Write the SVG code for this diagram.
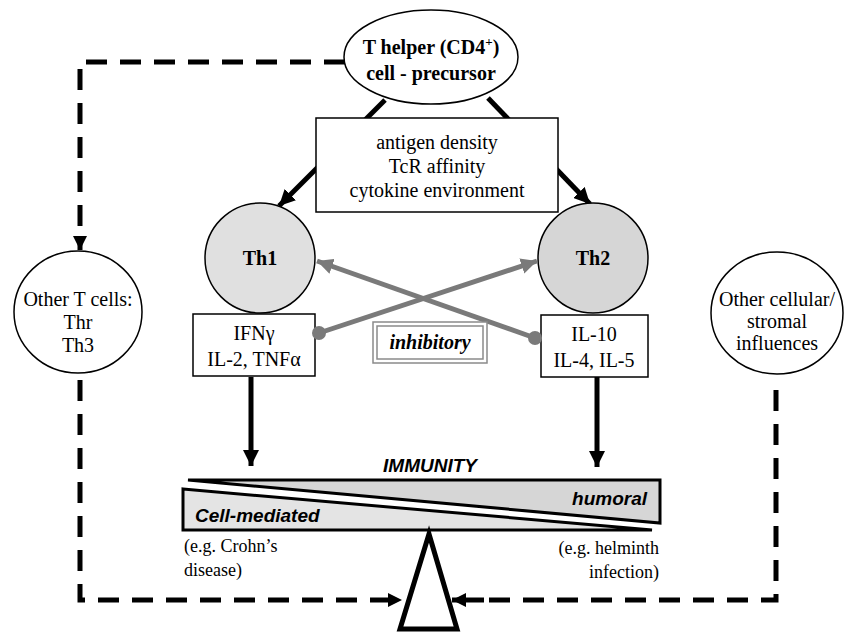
<svg xmlns="http://www.w3.org/2000/svg" width="847" height="633" viewBox="0 0 847 633">
<style>
.t{font-family:"Liberation Serif","Times New Roman",serif;font-size:20px;fill:#000;text-anchor:middle}
.tb{font-family:"Liberation Serif","Times New Roman",serif;font-size:20px;font-weight:bold;fill:#000;text-anchor:middle}
.s{font-family:"Liberation Serif","Times New Roman",serif;font-size:18px;fill:#000}
.a{font-family:"Liberation Sans",Arial,sans-serif;font-size:19px;font-weight:bold;font-style:italic;fill:#000}
.node{fill:#fff;stroke:#000;stroke-width:1.5}
.thick{stroke:#000;stroke-width:5;fill:none}
.gray{stroke:#7a7a7a;stroke-width:5;fill:none}
.dash{stroke:#000;stroke-width:5;fill:none;stroke-dasharray:21 13}
</style>
<defs>
<marker id="ab" markerUnits="userSpaceOnUse" markerWidth="18" markerHeight="16" refX="16" refY="8" orient="auto"><path d="M0,0 L16,8 L0,16 Z" fill="#000"/></marker>
<marker id="ag" markerUnits="userSpaceOnUse" markerWidth="18" markerHeight="16" refX="16" refY="8" orient="auto"><path d="M0,0 L16,8 L0,16 Z" fill="#7a7a7a"/></marker>
<marker id="ad" markerUnits="userSpaceOnUse" markerWidth="15" markerHeight="14" refX="14" refY="7" orient="auto"><path d="M0,0 L14,7 L0,14 Z" fill="#000"/></marker>
</defs>
<g id="connectors">
<line class="thick" x1="385" y1="100" x2="279" y2="206" marker-end="url(#ab)"/>
<line class="thick" x1="488" y1="98" x2="590" y2="204" marker-end="url(#ab)"/>
<path class="dash" d="M345,62 H80 V250" marker-end="url(#ad)"/>
<path class="dash" d="M80,380 V600 H402" marker-end="url(#ad)"/>
<path class="dash" d="M776,390 V600 H482"/>
<line class="thick" x1="484" y1="600" x2="452" y2="600" marker-end="url(#ad)"/>
<line class="thick" x1="251" y1="377" x2="251" y2="466" marker-end="url(#ab)"/>
<line class="thick" x1="597" y1="377" x2="597" y2="467" marker-end="url(#ab)"/>
</g>
<g id="precursor">
<ellipse class="node" cx="431" cy="57" rx="87" ry="47"/>
<text class="tb" x="431" y="54" font-size="21">T helper (CD4<tspan font-size="13" dy="-8">+</tspan><tspan dy="8">)</tspan></text>
<text class="tb" x="431" y="80" font-size="21">cell - precursor</text>
</g>
<g id="factors">
<rect class="node" x="316" y="118" width="242" height="94"/>
<text class="t" x="437" y="149">antigen density</text>
<text class="t" x="437" y="173">TcR affinity</text>
<text class="t" x="437" y="197">cytokine environment</text>
</g>
<g id="th1">
<circle cx="260" cy="258" r="55" fill="#e0e0e0" stroke="#000" stroke-width="1.5"/>
<text class="tb" x="260" y="265">Th1</text>
</g>
<g id="th2">
<circle cx="593" cy="258" r="55" fill="#d6d6d6" stroke="#000" stroke-width="1.5"/>
<text class="tb" x="593" y="265">Th2</text>
</g>
<g id="th1-cytokines">
<rect class="node" x="193" y="314" width="122" height="62"/>
<text class="t" x="254" y="340">IFNγ</text>
<text class="t" x="254" y="366">IL-2, TNFα</text>
</g>
<g id="th2-cytokines">
<rect class="node" x="541" y="315" width="107" height="62"/>
<text class="t" x="594" y="341">IL-10</text>
<text class="t" x="594" y="367">IL-4, IL-5</text>
</g>
<g id="inhibition">
<line class="gray" x1="319" y1="333" x2="537" y2="261" marker-end="url(#ag)"/>
<line class="gray" x1="535" y1="338" x2="317" y2="261" marker-end="url(#ag)"/>
<circle cx="319" cy="333" r="7" fill="#7a7a7a"/>
<circle cx="535" cy="338" r="7" fill="#7a7a7a"/>
</g>
<g id="inhibitory">
<rect x="373" y="322" width="114" height="41" fill="#fff" stroke="#8a8a8a" stroke-width="1.5"/>
<rect x="377" y="326" width="106" height="33" fill="none" stroke="#8a8a8a" stroke-width="1.5"/>
<text class="tb" x="430" y="349" font-style="italic">inhibitory</text>
</g>
<g id="other-t-cells">
<ellipse class="node" cx="78" cy="312" rx="64" ry="61"/>
<text class="t" x="78" y="306" font-size="19">Other T cells:</text>
<text class="t" x="78" y="329" font-size="19">Thr</text>
<text class="t" x="78" y="352" font-size="19">Th3</text>
</g>
<g id="other-influences">
<ellipse class="node" cx="777" cy="313" rx="66" ry="61"/>
<text class="t" x="777" y="306" font-size="19">Other cellular/</text>
<text class="t" x="777" y="328" font-size="19">stromal</text>
<text class="t" x="777" y="350" font-size="19">influences</text>
</g>
<g id="immunity-balance">
<text class="a" x="430" y="472" text-anchor="middle">IMMUNITY</text>
<polygon points="188,480 660,480 660,523" fill="#d6d6d6" stroke="#000" stroke-width="3" stroke-linejoin="miter"/>
<polygon points="183,489 652,530 183,530" fill="#e4e4e4" stroke="#000" stroke-width="3"/>
<text class="a" x="647" y="505" text-anchor="end" font-size="20">humoral</text>
<text class="a" x="195" y="522" font-size="20">Cell-mediated</text>
<text class="s" x="184" y="552">(e.g. Crohn’s</text>
<text class="s" x="184" y="576">disease)</text>
<text class="s" x="659" y="554" text-anchor="end">(e.g. helminth</text>
<text class="s" x="659" y="578" text-anchor="end">infection)</text>
<polygon points="429,534 400,629 457,629" fill="#fff" stroke="#000" stroke-width="5" stroke-linejoin="miter"/>
</g>
</svg>
